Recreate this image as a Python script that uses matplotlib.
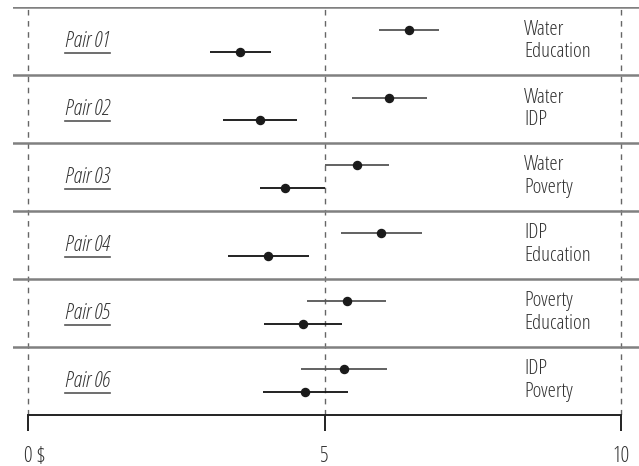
import matplotlib
matplotlib.use("Agg")
import matplotlib.pyplot as plt
from matplotlib.lines import Line2D
from matplotlib.transforms import ScaledTranslation

plt.rcParams['font.family'] = ['Open Sans', 'DejaVu Sans']
plt.rcParams['font.stretch'] = 'condensed'
plt.rcParams['font.weight'] = 300

# data
pairs = ['Pair 01', 'Pair 02', 'Pair 03', 'Pair 04', 'Pair 05', 'Pair 06']
top_labels = ['Water', 'Water', 'Water', 'IDP', 'Poverty', 'IDP']
bottom_labels = ['Education', 'IDP', 'Poverty', 'Education', 'Education', 'Poverty']
top_mean = [6.42, 6.09, 5.55, 5.95, 5.37, 5.33]
top_low = [5.91, 5.47, 5.00, 5.28, 4.71, 4.60]
top_high = [6.93, 6.73, 6.09, 6.64, 6.03, 6.05]
bot_mean = [3.58, 3.91, 4.33, 4.05, 4.63, 4.67]
bot_low = [3.07, 3.28, 3.91, 3.37, 3.97, 3.96]
bot_high = [4.09, 4.54, 5.00, 4.73, 5.30, 5.40]
xticks = [0, 5, 10]
xticklabels = ['0 $', '5', '10']

txt_color = '#333333'
fs = 15

fig = plt.figure(figsize=(6.39, 4.66), dpi=100)
ax = fig.add_axes([12.7 / 639, 1 - 414.5 / 466, 1 - 12.7 / 639, (414.5 - 7.3) / 466])
ax.set_xlim(-0.258, 10.30)
ax.set_ylim(len(pairs), 0)

for s in ['top', 'left', 'right']:
    ax.spines[s].set_visible(False)
ax.spines['bottom'].set_bounds(0, 10)
ax.spines['bottom'].set_color('#222222')
ax.spines['bottom'].set_linewidth(1.4)
ax.set_yticks([])
ax.set_xticks(xticks)
ax.set_xticklabels(xticklabels)
ax.tick_params(axis='x', direction='out', length=11.5, width=1.4, color='#222222',
               pad=11, labelsize=15.5, labelcolor=txt_color)
first = ax.get_xticklabels()[0]
first.set_horizontalalignment('left')
first.set_transform(first.get_transform() + ScaledTranslation(-4 / 100, 0, fig.dpi_scale_trans))

# dashed reference lines
for xv in xticks:
    ax.axvline(xv, color='#666666', linestyle=(0, (4, 4)), linewidth=1, zorder=1)

# row separators
for k in range(len(pairs)):
    ax.axhline(k, color='#808080', linewidth=1.8, zorder=2)

labels = []
for k in range(len(pairs)):
    yt = k + 0.33
    yb = k + 0.665
    ax.hlines(yt, top_low[k], top_high[k], color='#555555', linewidth=1.3, zorder=3)
    ax.hlines(yb, bot_low[k], bot_high[k], color='#111111', linewidth=1.3, zorder=3)
    ax.plot([top_mean[k], bot_mean[k]], [yt, yb], 'o', color='#1a1a1a',
            markersize=5.8, zorder=4)
    ax.text(8.36, yt, top_labels[k], fontsize=fs, color=txt_color, va='center', ha='left')
    ax.text(8.36, yb, bottom_labels[k], fontsize=fs, color=txt_color, va='center', ha='left')
    t = ax.text(0.62, k + 0.51, pairs[k], fontsize=15.5, color=txt_color, style='italic',
                va='center', ha='left')
    labels.append(t)

# underline the pair labels
fig.canvas.draw()
r = fig.canvas.get_renderer()
for t in labels:
    bb = t.get_window_extent(renderer=r)
    yl = bb.y0 - 1
    fig.add_artist(Line2D([bb.x0 / 639, bb.x1 / 639], [yl / 466, yl / 466],
                          color='#555555', linewidth=1.2))

fig.savefig('out.png', dpi=100)
